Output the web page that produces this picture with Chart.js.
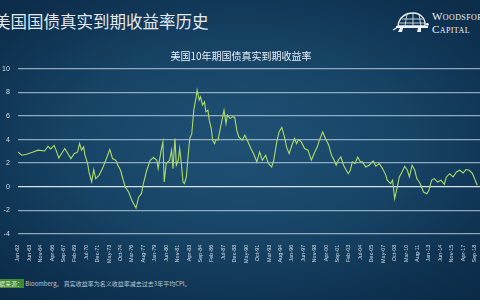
<!DOCTYPE html>
<html>
<head>
<meta charset="utf-8">
<script src="https://cdn.jsdelivr.net/npm/chart.js@4.4.1/dist/chart.umd.min.js"></script>
<style>
  html, body { margin: 0; padding: 0; }
  body {
    width: 480px; height: 300px; overflow: hidden; position: relative;
    background: radial-gradient(ellipse 75% 70% at 50% 48%, #1f5175 0%, #174466 45%, #0e3150 80%, #0b2a45 100%);
    font-family: "Noto Sans CJK SC", "Noto Sans", sans-serif;
  }
  #heading {
    position: absolute; left: -6px; top: 9px;
    font-size: 16.5px; color: #e3e9ef; white-space: nowrap; letter-spacing: 0;
  }
  #logo { position: absolute; left: 392px; top: 8px; width: 120px; height: 30px; }
  #logo svg { position: absolute; left: 0; top: 3px; }
  #logo .w1, #logo .w2 {
    position: absolute; left: 40px; font-family: "Liberation Serif", serif;
    color: #eef2f5; font-variant: small-caps; white-space: nowrap; letter-spacing: 0.4px;
  }
  #logo .w1 { top: 2px; font-size: 11px; }
  #logo .w2 { top: 15px; font-size: 11px; }
  #wrap { position: absolute; left: -6px; top: 46px; }
  #note {
    position: absolute; left: -8px; top: 279px; font-size: 6px; color: #b9c8d6; white-space: nowrap;
  }
  #note .src { background: #3f8a3a; color: #dfe9dc; padding: 0 1px; }
</style>
</head>
<body>
<div id="heading">美国国债真实到期收益率历史</div>
<div id="logo">
  <svg width="38" height="24" viewBox="0 0 38 24">
    <path d="M6 15 C7 6 14 2 21 2 C28 2 33 7 33 13 L33 15 Z" fill="none" stroke="#eef2f5" stroke-width="1.3"/>
    <path d="M10 8 L31 8 M8 12 L33 12 M15 3 L13 15 M21 2 L21 15 M27 3 L29 15" stroke="#eef2f5" stroke-width="0.8"/>
    <path d="M4 15 L36 15 L36 17 L4 17 Z" fill="#eef2f5"/>
    <path d="M33 13 C35 11 37 12 37 14 L35 15 Z" fill="#eef2f5"/>
    <path d="M8 17 L6 21 L10 21 L11 17 M26 17 L25 21 L29 21 L29 17" fill="#eef2f5"/>
    <path d="M1 19 L6 16" stroke="#eef2f5" stroke-width="1.2"/>
  </svg>
  <div class="w1">Woodsford</div>
  <div class="w2">Capital</div>
</div>
<div id="wrap"><canvas id="c" width="498" height="220"></canvas></div>
<div id="note"><span class="src">数据来源：</span> Bloomberg。 真实收益率为名义收益率减去过去3年平均CPI。</div>
<script>
// Months elapsed since Jan-1962, and the real 10y yield (%) at each of them
const months = [
  0, 6, 13, 23, 30, 40, 45, 49, 54, 57, 61, 65, 70, 74, 79, 84, 89, 92, 95, 98,
  100, 104, 106, 110, 113, 116, 121, 126, 131, 137, 141, 146, 149, 153, 157, 160, 165, 170, 176, 180,
  184, 187, 192, 197, 202, 207, 209, 213, 216, 218, 221, 226, 229, 231, 234, 236, 239, 241, 243, 246,
  248, 251, 253, 256, 259, 262, 266, 267, 270, 272, 275, 278, 280, 283, 285, 288, 290, 293, 295, 298,
  302, 305, 307, 310, 312, 316, 320, 323, 326, 329, 334, 338, 342, 347, 351, 356, 360, 364, 369, 373,
  378, 381, 386, 389, 393, 397, 400, 404, 408, 412, 415, 418, 422, 427, 432, 437, 441, 446, 449, 454,
  458, 463, 467, 471, 474, 477, 481, 485, 489, 492, 495, 498, 502, 506, 510, 513, 518, 523, 529, 533,
  538, 543, 548, 550, 555, 558, 561, 565, 568, 572, 576, 580, 583, 587, 591, 594, 599, 604, 609, 612,
  616, 620, 625, 630, 635, 638, 643, 648, 653, 658, 663, 667, 672, 677, 680, 684
];
const realYield = [
  2.95, 2.67, 2.75, 2.95, 3.10, 3.03, 3.43, 3.20, 3.50, 3.10, 2.44, 2.80, 3.24, 2.86, 2.38, 2.80, 2.95, 3.66, 3.10, 3.38,
  2.67, 1.96, 1.25, 0.40, 1.45, 0.68, 0.96, 1.53, 2.24, 3.15, 2.39, 2.24, 1.82, 1.39, 0.54, -0.03, -0.46, -1.20, -1.82, -0.88,
  -0.60, 0.26, 1.39, 2.24, 2.47, 2.24, 1.53, 2.95, 3.80, 0.39, 1.96, 2.24, 3.10, 1.53, 4.09, 1.82, 2.24, 3.24, 2.24, 0.39,
  0.26, 0.82, 2.24, 4.09, 4.50, 6.50, 7.78, 8.20, 7.36, 7.64, 6.93, 7.20, 6.36, 6.50, 5.65, 4.94, 3.95, 3.66, 4.00, 3.95,
  5.08, 5.93, 6.50, 5.37, 6.08, 5.80, 5.93, 5.88, 4.80, 4.23, 3.95, 4.37, 3.90, 3.24, 2.80, 2.10, 2.95, 2.24, 2.67, 1.96,
  1.67, 2.24, 3.95, 4.65, 5.03, 4.23, 3.38, 2.80, 3.52, 4.09, 3.66, 4.00, 3.80, 3.24, 3.10, 2.24, 2.80, 3.38, 3.95, 4.65,
  4.09, 3.52, 2.67, 2.24, 1.82, 2.24, 2.52, 1.82, 1.39, 1.10, 1.39, 2.10, 1.96, 2.52, 2.10, 2.10, 1.67, 1.82, 2.18, 1.73,
  1.96, 1.53, 0.96, 0.54, 0.26, 0.54, -1.02, -0.03, 0.82, 1.25, 1.73, 1.39, 0.82, 1.82, 1.39, 0.68, 0.26, -0.46, -0.60, -0.32,
  0.54, 0.68, 0.39, 0.54, 0.20, 0.82, 1.10, 0.82, 1.25, 1.39, 1.16, 1.45, 1.39, 1.10, 0.68, 0.11
];
// Axis labels, one every 17 months starting Jan-62
const tickLabels = [
  'Jan-62', 'Jun-63', 'Nov-64', 'Apr-66', 'Sep-67', 'Feb-69', 'Jul-70', 'Dec-71', 'May-73', 'Oct-74',
  'Mar-76', 'Aug-77', 'Jan-79', 'Jun-80', 'Nov-81', 'Apr-83', 'Sep-84', 'Feb-86', 'Jul-87', 'Dec-88',
  'May-90', 'Oct-91', 'Mar-93', 'Aug-94', 'Jan-96', 'Jun-97', 'Nov-98', 'Apr-00', 'Sep-01', 'Feb-03',
  'Jul-04', 'Dec-05', 'May-07', 'Oct-08', 'Mar-10', 'Aug-11', 'Jan-13', 'Jun-14', 'Nov-15', 'Apr-17', 'Sep-18'
];
const tickStep = 17;
const yTicks = [-4, -2, 0, 2, 4, 6, 8, 10];

const points = months.map((m, i) => ({ x: m, y: realYield[i] }));

new Chart(document.getElementById('c'), {
  type: 'line',
  data: {
    datasets: [{
      data: points,
      borderColor: '#aedb68',
      borderWidth: 1.1,
      pointRadius: 0,
      tension: 0,
      fill: false
    }]
  },
  options: {
    responsive: false,
    animation: false,
    layout: { padding: { left: 0, right: 4, top: 0, bottom: 0 } },
    plugins: {
      legend: { display: false },
      tooltip: { enabled: false },
      title: {
        display: true,
        text: '美国10年期国债真实到期收益率',
        color: '#e8eef3',
        font: { family: '"Noto Sans CJK SC"', size: 10, weight: 'normal' },
        padding: { top: 4, bottom: 7 }
      }
    },
    scales: {
      x: {
        type: 'linear',
        min: 0,
        max: 700,
        afterBuildTicks: (axis) => {
          axis.ticks = tickLabels.map((_, i) => ({ value: i * tickStep }));
        },
        grid: { display: false },
        border: { display: false },
        ticks: {
          autoSkip: false,
          minRotation: 90,
          maxRotation: 90,
          padding: 3,
          color: '#d4dee7',
          font: { family: 'Liberation Sans', size: 5.5 },
          callback: (v) => tickLabels[Math.round(v / tickStep)] ?? ''
        }
      },
      y: {
        min: -4,
        max: 10,
        afterBuildTicks: (axis) => { axis.ticks = yTicks.map(v => ({ value: v })); },
        border: { display: false },
        grid: {
          drawTicks: false,
          lineWidth: 1.2,
          color: (ctx) => ctx.tick && ctx.tick.value === 0 ? 'rgba(225,236,244,0.95)' : 'rgba(185,205,222,0.75)'
        },
        ticks: {
          padding: 8,
          color: '#d4dee7',
          font: { family: 'Liberation Sans', size: 7 }
        }
      }
    }
  }
});
</script>
</body>
</html>
